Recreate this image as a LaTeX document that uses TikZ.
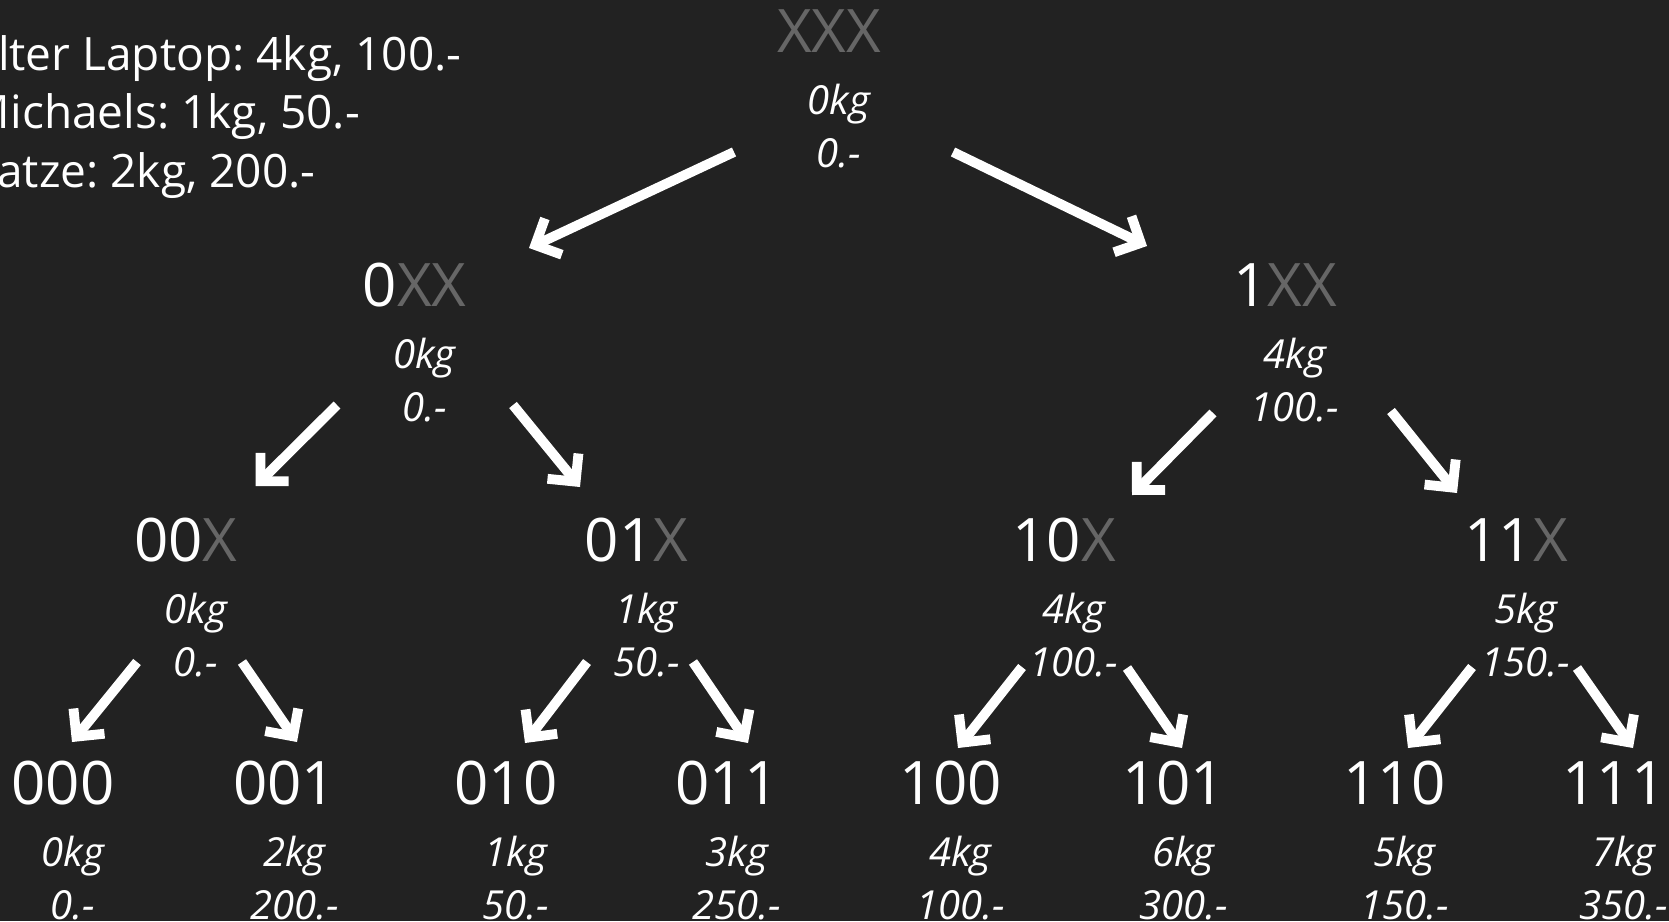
\documentclass[tikz,border=0pt]{standalone}
\usepackage{fontspec}
\setmainfont{Open Sans}
\usetikzlibrary{arrows.meta,calc}
\definecolor{bg}{HTML}{222222}
\definecolor{dim}{HTML}{666666}
\frenchspacing

% one tree position: bit pattern, weight and value
\newcommand\tnode[6]{%
  \node[key] (#1) at (#2,#3) {#4};
  \node[info] (#1w) at ($(#1.base)+(10,62)$) {#5};
  \node[info] (#1p) at ($(#1.base)+(10,115)$) {#6};
}

\begin{document}
\begin{tikzpicture}[x=1pt,y=-1pt,
  every node/.style={inner sep=0pt, outer sep=0pt, text=white},
  key/.style={anchor=base, font=\fontsize{60}{60}\selectfont},
  info/.style={anchor=base, font=\fontsize{40}{48}\selectfont\itshape},
  item/.style={anchor=base west, font=\fontsize{46}{54}\selectfont},
  arr/.style={draw=white, line width=9.8pt, line cap=butt,
    -{Straight Barb[length=20pt,width=40pt,sharp]}},
]
\fill[bg] (0,0) rectangle (1669,921);
\useasboundingbox (0,0) rectangle (1669,921);
\clip (0,0) rectangle (1669,921);

% item list
\node[item] (item1) at (-31,70)  {Alter Laptop: 4kg, 100.-};
\node[item] (item2) at (-31,128) {Michaels: 1kg, 50.-};
\node[item] (item3) at (-31,187) {Katze: 2kg, 200.-};

% tree
\tnode{tXXX}{829}{52}{\textcolor{dim}{XXX}}{0kg}{0.-}
\tnode{t0XX}{414.5}{306}{0\textcolor{dim}{XX}}{0kg}{0.-}
\tnode{t1XX}{1285}{306}{1\textcolor{dim}{XX}}{4kg}{100.-}
\tnode{t00X}{186}{561}{00\textcolor{dim}{X}}{0kg}{0.-}
\tnode{t01X}{636.5}{561}{01\textcolor{dim}{X}}{1kg}{50.-}
\tnode{t10X}{1064}{561}{10\textcolor{dim}{X}}{4kg}{100.-}
\tnode{t11X}{1516}{561}{11\textcolor{dim}{X}}{5kg}{150.-}
\tnode{t000}{63}{804}{000}{0kg}{0.-}
\tnode{t001}{284.5}{804}{001}{2kg}{200.-}
\tnode{t010}{506}{804}{010}{1kg}{50.-}
\tnode{t011}{727}{804}{011}{3kg}{250.-}
\tnode{t100}{950.5}{804}{100}{4kg}{100.-}
\tnode{t101}{1173.5}{804}{101}{6kg}{300.-}
\tnode{t110}{1394.5}{804}{110}{5kg}{150.-}
\tnode{t111}{1614}{804}{111}{7kg}{350.-}

% branches
\draw[arr] ($(tXXX.base)+(-95,100)$) -- ($(t0XX.base)+(114.5,-58)$);
\draw[arr] ($(tXXX.base)+(124,100)$) -- ($(t1XX.base)+(-138,-60)$);
\draw[arr] ($(t0XX.base)+(-77.5,99)$) -- ($(t00X.base)+(69.5,-75)$);
\draw[arr] ($(t0XX.base)+(98.5,99)$) -- ($(t01X.base)+(-56.5,-74)$);
\draw[arr] ($(t1XX.base)+(-72,107)$) -- ($(t10X.base)+(68,-66)$);
\draw[arr] ($(t1XX.base)+(106,105)$) -- ($(t11X.base)+(-59,-68)$);
\draw[arr] ($(t00X.base)+(-49,101)$) -- ($(t000.base)+(9,-62)$);
\draw[arr] ($(t00X.base)+(56,101)$) -- ($(t001.base)+(12.5,-62)$);
\draw[arr] ($(t01X.base)+(-49.5,101)$) -- ($(t010.base)+(19,-61)$);
\draw[arr] ($(t01X.base)+(56.5,101)$) -- ($(t011.base)+(21,-61)$);
\draw[arr] ($(t10X.base)+(-42,106)$) -- ($(t100.base)+(7.5,-56)$);
\draw[arr] ($(t10X.base)+(63,107)$) -- ($(t101.base)+(8.5,-56)$);
\draw[arr] ($(t11X.base)+(-44,106)$) -- ($(t110.base)+(13.5,-56)$);
\draw[arr] ($(t11X.base)+(61,107)$) -- ($(t111.base)+(19,-56)$);
\end{tikzpicture}
\end{document}
